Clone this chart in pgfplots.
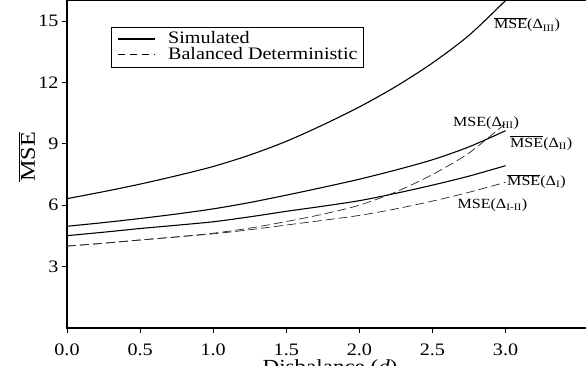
\documentclass[border=0pt]{standalone}
\usepackage{fontspec}
\setmainfont{Liberation Serif}[FakeStretch=1.15]
\usepackage{pgfplots}
\pgfplotsset{compat=1.18}
\begin{document}
\begin{tikzpicture}[x=1pt,y=1pt]
\begin{axis}[
  at={(67pt,38pt)}, anchor=south west,
  scale only axis, width=540.9pt, height=327.5pt,
  xmin=0, xmax=3.7, ymin=0, ymax=16,
  clip=false,
  xtick={0,0.5,1,1.5,2,2.5,3}, ytick={3,6,9,12,15},
  /pgf/number format/assume math mode=true,
  xticklabel style={/pgf/number format/fixed, /pgf/number format/fixed zerofill, /pgf/number format/precision=1, yshift=-7pt},
  ticklabel style={font=\fontsize{17.5}{20}\selectfont},
  tick align=outside, tick pos=left,
  major tick length=5pt,
  tick style={line width=0.8pt, black},
  axis line style={line width=1.8pt},
  ylabel={$\overline{\mbox{MSE}}$},
  ylabel style={at={(axis description cs:-0.074,0.5225)}, anchor=center, inner sep=0pt, font=\fontsize{21}{24}\selectfont},
  xlabel={Disbalance (\textit{d})},
  xlabel style={at={(axis description cs:0.4865,0)}, anchor=north, yshift=-31pt, inner sep=0pt, font=\fontsize{20}{24}\selectfont},
  legend style={at={(axis cs:0.299,14.72)}, anchor=north west, draw=black, line width=0.8pt,
    font=\fontsize{17.5}{19}\selectfont, inner xsep=6pt, inner ysep=4.5pt, column sep=12pt, row sep=0pt,
    nodes={inner sep=0pt, text height=12pt, text depth=3.5pt}},
  legend cell align=left,
  legend image code/.code={\draw[#1] (0pt,0pt) -- (37pt,0pt);},
]
\addlegendimage{black, line width=2pt}
\addlegendentry{Simulated}
\addlegendimage{black, line width=0.7pt, dash pattern=on 7pt off 5pt}
\addlegendentry{Balanced Deterministic}

% Simulated MSE(Delta_III)
\addplot[black, line width=1.1pt, smooth, forget plot] coordinates {
(0,6.32) (0.25,6.66) (0.5,7.03) (0.75,7.44) (1.0,7.89) (1.25,8.45) (1.5,9.12)
(1.75,9.92) (2.0,10.8) (2.25,11.8) (2.5,12.95) (2.75,14.3) (3.0,16.0)};
% Simulated MSE(Delta_II)
\addplot[black, line width=1.1pt, smooth, forget plot] coordinates {
(0,4.97) (0.25,5.15) (0.5,5.35) (0.75,5.57) (1.0,5.82) (1.25,6.13) (1.5,6.49)
(1.75,6.87) (2.0,7.27) (2.25,7.72) (2.5,8.22) (2.75,8.85) (3.0,9.64)};
% Simulated MSE(Delta_I)
\addplot[black, line width=1.1pt, smooth, forget plot] coordinates {
(0,4.51) (0.25,4.68) (0.5,4.86) (0.75,5.02) (1.0,5.19) (1.25,5.43) (1.5,5.7)
(1.75,5.95) (2.0,6.22) (2.25,6.58) (2.5,6.98) (2.75,7.42) (3.0,7.93)};
% Balanced deterministic MSE(Delta_III)
\addplot[black!85, line width=0.7pt, dash pattern=on 9pt off 4pt, smooth, forget plot] coordinates {
(0,4.0) (0.25,4.14) (0.5,4.3) (0.75,4.45) (1.0,4.63) (1.25,4.88) (1.5,5.2)
(1.75,5.56) (2.0,6.0) (2.25,6.65) (2.5,7.5) (2.75,8.55) (3.0,10.0)};
% Balanced deterministic MSE(Delta_I-II)
\addplot[black!85, line width=0.7pt, dash pattern=on 9pt off 4pt, smooth, forget plot] coordinates {
(0,4.0) (0.25,4.14) (0.5,4.3) (0.75,4.45) (1.0,4.6) (1.25,4.8) (1.5,5.03)
(1.75,5.26) (2.0,5.5) (2.25,5.82) (2.5,6.2) (2.75,6.63) (3.0,7.12)};

\begin{scope}[every node/.style={font=\fontsize{14}{16}\selectfont, inner sep=0pt, anchor=west}]
\node at (axis cs:2.92,14.81) {$\overline{\mbox{MSE}}$(Δ\textsubscript{III})};
\node at (axis cs:2.64,10.0) {MSE(Δ\textsubscript{III})};
\node at (axis cs:3.03,9.03) {$\overline{\mbox{MSE}}$(Δ\textsubscript{II})};
\node at (axis cs:3.01,7.17) {$\overline{\mbox{MSE}}$(Δ\textsubscript{I})};
\node at (axis cs:2.67,6.0) {MSE(Δ\textsubscript{I-II})};
\end{scope}
\end{axis}
\pgfresetboundingbox
\path[use as bounding box] (0,0) rectangle (586,366);
\end{tikzpicture}
\end{document}
